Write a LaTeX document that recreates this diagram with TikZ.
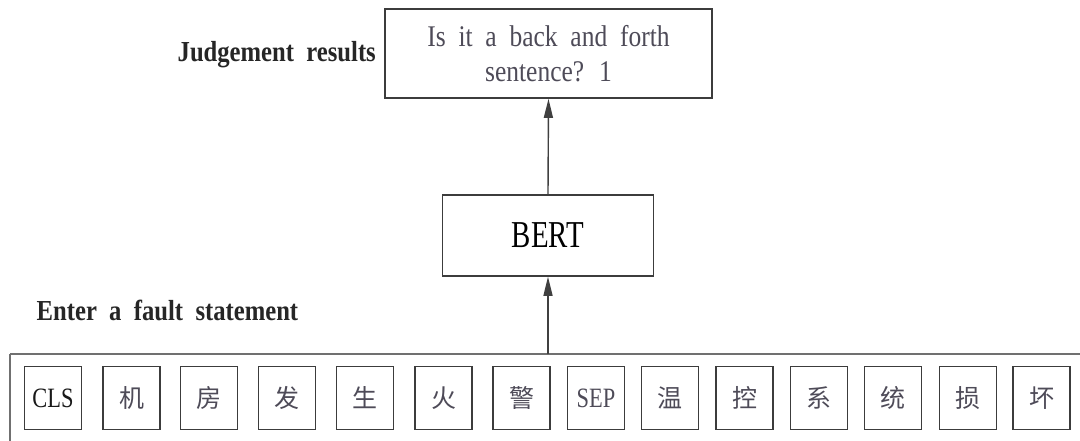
\documentclass[tikz,border=0pt]{standalone}
\usepackage{fontspec}
\usetikzlibrary{arrows.meta}
\setmainfont{Liberation Serif}
\newfontfamily\labelfont[FakeStretch=0.85,WordSpace=2.2]{Liberation Serif}
\newfontfamily\boxfont[FakeStretch=0.85,WordSpace=2]{Liberation Serif}
\newfontfamily\bertfont[FakeStretch=0.76]{Liberation Serif}
\newfontfamily\tokfont[FakeStretch=0.8]{Liberation Serif}
\newfontfamily\cjk{Noto Sans CJK SC}
\definecolor{edge}{HTML}{3C3C3C}
\definecolor{frame}{HTML}{707070}
\definecolor{softtext}{HTML}{4E4B58}
\begin{document}
\begin{tikzpicture}[x=1pt,y=-1pt,
  box/.style={draw=edge,line width=1.6pt,inner sep=0pt,fill=white},
  tok/.style={box,minimum width=57pt,minimum height=63pt},
  lbl/.style={anchor=base west,inner sep=0pt,font=\labelfont\bfseries\fontsize{29}{32}\selectfont,text=black!85},
  cjktok/.style={tok,font=\cjk\fontsize{25}{27}\selectfont,text=softtext},
  flow/.style={draw=black!75,line width=1.4pt,-{Triangle[length=19pt,width=9pt]}}]
\useasboundingbox (0,0) rectangle (1080,441);
\begin{scope}
\clip (0,0) rectangle (1080,441);
% outer frame holding the input tokens (runs off the right and bottom)
\draw[frame,line width=1.6pt] (10,354) -- (1090,354) (10,354) -- (10,450);
\coordinate (framein) at (548,354);
\end{scope}

% result box
\node[box,minimum width=327pt,minimum height=89pt,align=center,
      font=\boxfont\fontsize{30}{35}\selectfont,text=softtext]
  (result) at (548.5,53.5) {Is it a back and forth\\sentence? 1};
\node[lbl,anchor=base east] (judge) at (376,61.7) {Judgement results};

% model box
\node[box,minimum width=211pt,minimum height=81pt,font=\bertfont\fontsize{38}{40}\selectfont]
  (bert) at (548,235.5) {BERT};

\node[lbl] (enter) at (36.5,320) {Enter a fault statement};

% token boxes
\node[tok,font=\tokfont\fontsize{28}{30}\selectfont,text=black!90] (t1) at (53,398) {CLS};
\node[cjktok] (t2) at (131.5,398) {机};
\node[cjktok] (t3) at (209,398) {房};
\node[cjktok] (t4) at (287,398) {发};
\node[cjktok] (t5) at (365,398) {生};
\node[cjktok] (t6) at (443.5,398) {火};
\node[cjktok] (t7) at (521.5,398) {警};
\node[tok,font=\tokfont\fontsize{28}{30}\selectfont,text=softtext] (t8) at (596,398) {SEP};
\node[cjktok] (t9) at (670,398) {温};
\node[cjktok] (t10) at (744.5,398) {控};
\node[cjktok] (t11) at (819,398) {系};
\node[cjktok] (t12) at (893,398) {统};
\node[cjktok] (t13) at (968,398) {损};
\node[cjktok] (t14) at (1041.5,398) {坏};

% data flow
\draw[flow] (framein) -- (bert.south);
\draw[flow] (bert.north) -- (result.south);
\end{tikzpicture}
\end{document}
